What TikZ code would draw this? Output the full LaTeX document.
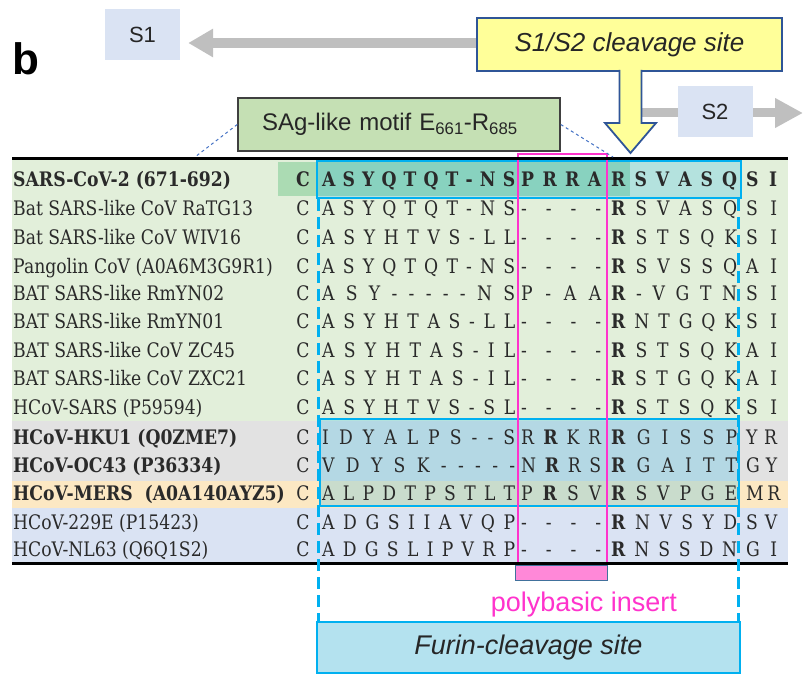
\documentclass[tikz,border=0pt]{standalone}
\usepackage{fontspec}
\setmainfont{DejaVu Serif}[FakeStretch=0.86]
\newfontfamily\arialfont{Liberation Sans}
\usetikzlibrary{arrows.meta}

\definecolor{boxlav}{HTML}{DAE3F3}
\definecolor{arrowgray}{HTML}{BFBFBF}
\definecolor{calloutyellow}{HTML}{FFFF99}
\definecolor{calloutblue}{HTML}{2F5597}
\definecolor{saggreen}{HTML}{C5E0B4}
\definecolor{sagborder}{HTML}{404040}
\definecolor{dashblue}{HTML}{4472C4}
\definecolor{bggreen}{HTML}{E2EFDA}
\definecolor{bggray}{HTML}{E2E2E2}
\definecolor{bgpeach}{HTML}{FCE8C3}
\definecolor{bgblue}{HTML}{DAE3F3}
\definecolor{motifgreen}{HTML}{ABDBB3}
\definecolor{cyanline}{HTML}{00B0F0}
\definecolor{insertpink}{HTML}{FF33CC}
\definecolor{barpink}{HTML}{FF88D8}
\definecolor{barborder}{HTML}{41719C}
\definecolor{furinfill}{HTML}{B4E2EF}
\definecolor{seqtext}{HTML}{2A2A2A}

\newcommand{\seqfont}{\fontsize{20}{23}\selectfont}

% one alignment row: prefix, baseline, weight, name, four residue blocks
\newcommand{\alnrow}[8]{%
  \node[lab] (#1n) at (13,#2) {#3#4};
  \node[res] (#1c) at (303,#2) {#3C};
  \node[blk] (#1a) at (322,#2) {#3\makebox[193pt][s]{#5}};
  \node[blk] (#1b) at (521,#2) {#3\makebox[80pt][s]{#6}};
  \node[blk] (#1d) at (611,#2) {#3\makebox[126pt][s]{#7}};
  \node[blk] (#1e) at (746,#2) {#3\makebox[31pt][s]{#8}};
}

\begin{document}
\begin{tikzpicture}[x=1pt,y=-1pt,
  lab/.style={anchor=base west,inner sep=0pt,font=\seqfont,text=seqtext},
  res/.style={anchor=base,inner sep=0pt,font=\seqfont,text=seqtext},
  blk/.style={anchor=base west,inner sep=0pt,font=\seqfont,text=seqtext},
  tagbox/.style={fill=boxlav,minimum width=75pt,minimum height=51pt,inner sep=0pt,
    font=\arialfont\fontsize{22}{24}\selectfont,text=black!85},
  sagbox/.style={fill=saggreen,draw=sagborder,line width=1.5pt,minimum height=53pt,
    text width=274pt,inner xsep=24pt,align=left,
    font=\arialfont\fontsize{24}{26}\selectfont,text=black!85},
  cleavetext/.style={fill=calloutyellow,draw=calloutblue,line width=1.8pt,
    minimum width=305pt,minimum height=53pt,inner sep=0pt,
    font=\arialfont\itshape\fontsize{26}{28}\selectfont,text=black!85},
  grayarrow/.style={arrowgray,line width=10pt},
  furinbox/.style={fill=furinfill,draw=cyanline,line width=2.5pt,minimum width=423pt,
    minimum height=51pt,inner sep=0pt,font=\arialfont\itshape\fontsize{27}{29}\selectfont,text=black!85},
  polytext/.style={text=insertpink,inner sep=0pt,font=\arialfont\fontsize{27}{29}\selectfont},
  barbox/.style={fill=barpink,draw=barborder,line width=0.8pt,minimum width=92pt,
    minimum height=15pt,inner sep=0pt},
  cyandash/.style={cyanline,line width=3pt,dash pattern=on 12pt off 6pt},
  seqframe/.style={draw=cyanline,line width=2.5pt,fill=cyanline,fill opacity=0.2}
]
\useasboundingbox (0,0) rectangle (812,676);

% ---- coloured bands of the alignment table
\fill[bggreen] (12,159) rectangle (788,421);
\fill[bggray]  (12,421) rectangle (788,481);
\fill[bgpeach] (12,481) rectangle (788,508);
\fill[bgblue]  (12,508) rectangle (788,563);

% SAg-like motif highlight in the SARS-CoV-2 row
\fill[motifgreen] (278,162) rectangle (630,196);

% framed regions
\path[seqframe] (317,161) rectangle (741,198);
\path[seqframe] (320,419) rectangle (739,506);
\draw[cyanline,line width=2.5pt] (317,161) rectangle (741,198);
\draw[cyanline,line width=2.5pt] (320,419) rectangle (739,506);

% ---- alignment rows
\alnrow{r1}{186.2}{\bfseries}{SARS-CoV-2 (671-692)}{A S Y Q T Q T - N S}{P R R A}{R S V A S Q}{S I}
\alnrow{r2}{215.2}{}{Bat SARS-like CoV RaTG13}{A S Y Q T Q T - N S}{- - - -}{\textbf{R} S V A S Q}{S I}
\alnrow{r3}{244.2}{}{Bat SARS-like CoV WIV16}{A S Y H T V S - L L}{- - - -}{\textbf{R} S T S Q K}{S I}
\alnrow{r4}{273.2}{}{Pangolin CoV (A0A6M3G9R1)}{A S Y Q T Q T - N S}{- - - -}{\textbf{R} S V S S Q}{A I}
\alnrow{r5}{300.2}{}{BAT SARS-like RmYN02}{A S Y - - - - - N S}{P - A A}{\textbf{R} - V G T N}{S I}
\alnrow{r6}{328.2}{}{BAT SARS-like RmYN01}{A S Y H T A S - L L}{- - - -}{\textbf{R} N T G Q K}{S I}
\alnrow{r7}{357.2}{}{BAT SARS-like CoV ZC45}{A S Y H T A S - I L}{- - - -}{\textbf{R} S T S Q K}{A I}
\alnrow{r8}{385.2}{}{BAT SARS-like CoV ZXC21}{A S Y H T A S - I L}{- - - -}{\textbf{R} S T G Q K}{A I}
\alnrow{r9}{414.2}{}{HCoV-SARS (P59594)}{A S Y H T V S - S L}{- - - -}{\textbf{R} S T S Q K}{S I}
\alnrow{r10}{444.2}{}{\textbf{HCoV-HKU1 (Q0ZME7)}}{I D Y A L P S - - S}{R \textbf{R} K R}{\textbf{R} G I S S P}{Y R}
\alnrow{r11}{472.2}{}{\textbf{HCoV-OC43 (P36334)}}{V D Y S K - - - - -}{N \textbf{R} R S}{\textbf{R} G A I T T}{G Y}
\alnrow{r12}{500.2}{}{\textbf{HCoV-MERS~ (A0A140AYZ5)}}{A L P D T P S T L T}{P \textbf{R} S V}{\textbf{R} S V P G E}{M R}
\alnrow{r13}{529.2}{}{HCoV-229E (P15423)}{A D G S I I A V Q P}{- - - -}{\textbf{R} N V S Y D}{S V}
\alnrow{r14}{556.2}{}{HCoV-NL63 (Q6Q1S2)}{A D G S L I P V R P}{- - - -}{\textbf{R} N S S D N}{G I}

% polybasic insert column
\draw[insertpink,line width=2pt] (518,154) rectangle (607,565);

% table rules
\draw[black,line width=3pt] (12,159) -- (788,159);
\draw[black,line width=3pt] (12,563) -- (788,563);

% ---- furin-cleavage site
\node[furinbox] (furin) at (528.5,647.5) {Furin-cleavage site};
\coordinate (vl) at (318,199);
\coordinate (vr) at (738,199);
\draw[cyandash] (vl) -- (vl |- furin.north);
\draw[cyandash] (vr) -- (vr |- furin.north);

\node[barbox] (bar) at (561,572.5) {};
\node[polytext] (poly) at (584,605) {polybasic insert};

% ---- panel letter
\node[anchor=base west,inner sep=0pt,font=\arialfont\bfseries\fontsize{44}{46}\selectfont] (panel) at (12,75) {b};

% ---- S1 / S2 domains and the cleavage call-out
\node[tagbox] (s1) at (142.5,34.5) {S1};
\node[cleavetext] (cleave) at (629.5,44.5) {S1/S2 cleavage site};

\coordinate (s1from) at ([yshift=1.5pt]cleave.west);
\draw[grayarrow,-{Triangle[length=25pt,width=27pt]},shorten >=8pt]
  (s1from) -- (s1from -| s1.east);

\coordinate (s2start) at (641,113);
\coordinate (s2end) at (803,113);
\draw[arrowgray,line width=9pt,-{Triangle[length=28pt,width=28pt]}] (s2start) -- (s2end);
\node[tagbox] (s2) at (715,111.5) {S2};

% down-pointing arrow of the call-out
\path[fill=calloutyellow,draw=calloutblue,line width=1.8pt,line join=miter]
  (619.5,70) -- (619.5,123) -- (605,123) -- (630.5,153) -- (656,123) -- (641.5,123) -- (641.5,70);

% ---- SAg-like motif label
\node[sagbox] (sag) at (399,124.5) {SAg-like motif E\textsubscript{661}-R\textsubscript{685}};
\coordinate (dl) at (195,157);
\coordinate (dr) at (613,157);
\draw[dashblue,dashed,line width=1pt] (sag.west) -- (dl);
\draw[dashblue,dashed,line width=1pt] (sag.east) -- (dr);

\end{tikzpicture}
\end{document}
